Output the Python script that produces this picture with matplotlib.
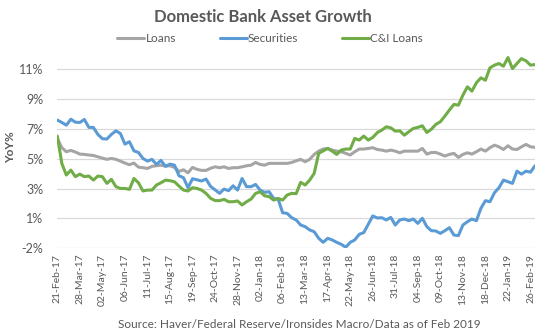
import math
import matplotlib
matplotlib.use("Agg")
import matplotlib.pyplot as plt
import matplotlib.dates as mdates
from matplotlib.ticker import FuncFormatter, FixedLocator
import pandas as pd

plt.rcParams['font.family'] = ['Lato', 'DejaVu Sans']

# Weekly YoY growth rates (%), 21-Feb-2017 onwards
start_date = "2017-02-21"

loans = [5.86, 5.24, 4.97, 5.06, 4.95, 4.81, 4.79, 4.75, 4.72, 4.63,
         4.54, 4.46, 4.52, 4.46, 4.34, 4.21, 4.10, 4.21, 3.94, 3.90,
         3.85, 3.99, 4.03, 4.07, 4.01, 4.03, 3.92, 3.65, 3.76, 3.56,
         3.92, 3.79, 3.72, 3.72, 3.86, 3.96, 3.90, 3.96, 3.85, 3.90,
         3.90, 3.96, 4.03, 4.07, 4.25, 4.12, 4.07, 4.19, 4.19, 4.19,
         4.19, 4.19, 4.25, 4.36, 4.46, 4.30, 4.46, 4.79, 5.01, 5.15,
         5.19, 5.08, 5.01, 4.97, 4.86, 4.75, 4.97, 5.15, 5.15, 5.19,
         5.24, 5.12, 5.08, 5.01, 5.08, 5.01, 4.90, 5.01, 5.01, 5.01,
         5.01, 5.19, 4.81, 4.92, 4.92, 4.81, 4.68, 4.79, 4.86, 4.59,
         4.79, 4.90, 4.81, 4.97, 5.15, 5.01, 5.24, 5.41, 5.30, 5.12,
         5.37, 5.15, 5.12, 5.30, 5.46, 5.30, 5.26]

securities = [7.09, 6.93, 6.75, 7.15, 6.95, 6.93, 7.13, 6.60, 6.60, 6.13,
              5.84, 5.82, 6.13, 6.37, 6.19, 5.48, 5.64, 5.03, 4.92, 4.52,
              4.34, 4.46, 4.12, 4.39, 3.99, 4.14, 4.07, 3.36, 3.23, 2.56,
              3.16, 3.09, 3.01, 3.14, 2.65, 2.42, 2.18, 2.47, 2.36, 2.69,
              2.40, 3.18, 2.63, 2.63, 2.78, 2.40, 2.25, 2.29, 1.84, 1.80,
              0.88, 0.84, 0.55, 0.40, 0.06, -0.05, -0.27, -0.39, -0.83, -1.10,
              -0.83, -0.94, -1.10, -1.23, -1.43, -1.10, -0.94, -0.56, -0.45, 0.11,
              0.67, 0.53, 0.55, 0.40, 0.57, 0.06, 0.40, 0.46, 0.35, 0.46,
              0.17, 0.51, -0.05, -0.32, -0.34, -0.50, -0.32, -0.12, -0.61, -0.65,
              0.06, 0.28, 0.46, 0.35, 1.18, 1.69, 1.62, 2.22, 2.56, 3.07,
              2.96, 2.85, 3.67, 3.47, 3.67, 3.60, 4.03]

ci_loans = [6.02, 4.19, 3.41, 3.74, 3.30, 3.47, 3.30, 3.34, 3.07, 3.34,
            3.30, 2.85, 3.12, 2.63, 2.51, 2.51, 2.45, 3.18, 2.89, 2.34,
            2.40, 2.40, 2.74, 2.89, 3.07, 3.03, 2.96, 2.67, 2.40, 2.34,
            2.56, 2.51, 2.40, 2.18, 1.85, 1.70, 1.69, 1.78, 1.62, 1.62,
            1.67, 1.40, 1.62, 1.80, 2.18, 2.29, 2.02, 1.96, 1.73, 1.84,
            1.73, 2.07, 2.18, 2.16, 2.92, 2.74, 3.07, 3.52, 4.86, 5.03,
            5.19, 5.01, 4.79, 5.08, 5.15, 5.15, 5.86, 5.75, 6.02, 5.75,
            5.93, 6.25, 6.42, 6.64, 6.57, 6.35, 6.37, 6.08, 6.31, 6.53,
            6.60, 6.71, 6.26, 6.48, 6.80, 6.98, 7.36, 7.76, 8.14, 8.09,
            8.76, 9.32, 9.03, 9.59, 9.92, 9.76, 10.59, 10.77, 10.88, 10.70,
            11.28, 10.54, 10.88, 11.21, 11.06, 10.77, 10.81]

series_names = ["Loans", "Securities", "C&I Loans"]
series_colors = ["#A5A5A5", "#5B9BD5", "#70AD47"]

y_ticks = [-1.5, 0.5, 2.5, 4.5, 6.5, 8.5, 10.5]

dates = pd.date_range(start_date, periods=len(loans), freq="7D")

text_color = "#595959"
grid_color = "#D9D9D9"

fig = plt.figure(figsize=(5.49, 3.35), dpi=100)
ax = fig.add_axes([0.1044, 0.2588, 0.8701, 0.6015])

for vals, name, col in zip([loans, securities, ci_loans], series_names, series_colors):
    ax.plot(dates, vals, color=col, linewidth=2.2, label=name,
            solid_joinstyle="round", solid_capstyle="round")

ax.set_xlim(dates[0], dates[-1])
ax.set_ylim(-1.5, 12.0)


def pct_label(v, pos=None):
    # round half away from zero, as spreadsheet number formats do
    r = math.copysign(math.floor(abs(v) + 0.5), v)
    return f"{int(r)}%"


ax.yaxis.set_major_locator(FixedLocator(y_ticks))
ax.yaxis.set_major_formatter(FuncFormatter(pct_label))
ax.grid(axis="y", color=grid_color, linewidth=0.9)
ax.set_axisbelow(True)

ax.set_xticks(dates[::5])
ax.xaxis.set_major_formatter(mdates.DateFormatter("%d-%b-%y"))
for lbl in ax.get_xticklabels():
    lbl.set_rotation(90)

ax.tick_params(axis="y", length=0, labelsize=9, labelcolor=text_color, pad=10)
ax.tick_params(axis="x", length=0, labelsize=7.5, labelcolor=text_color, pad=4)

for s in ax.spines.values():
    s.set_visible(False)

fig.text(11 / 549, 1 - 147 / 335, "YoY%", rotation=90, ha="center", va="center",
         fontsize=8.5, fontweight="bold", color=text_color)

fig.text(0.478, 0.948, "Domestic Bank Asset Growth", ha="center", va="center",
         fontsize=12, fontweight="bold", color=text_color)

leg = fig.legend(loc="center", bbox_to_anchor=(0.492, 0.885), ncol=3, frameon=False,
                 fontsize=8.5, handlelength=2.3, handletextpad=0.1, columnspacing=3.7)
for t in leg.get_texts():
    t.set_color(text_color)

fig.text(0.545, 0.03, "Source: Haver/Federal Reserve/Ironsides Macro/Data as of Feb 2019",
         ha="center", va="center", fontsize=8.5, color=text_color)

fig.savefig("out.png", dpi=100)
